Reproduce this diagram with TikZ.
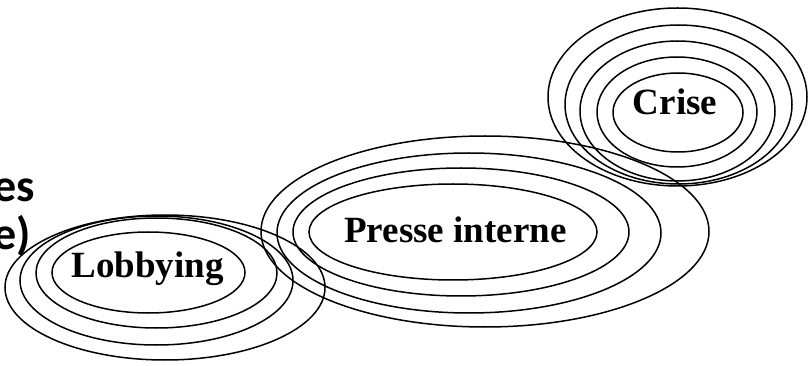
\documentclass[tikz,border=0pt]{standalone}
\usepackage{fontspec}
\setmainfont{Liberation Serif}
\newfontfamily\sidefont{Carlito}
\tikzset{
  ring/.style={draw=black, line width=1.5pt},
  lbl/.style={anchor=base, inner sep=0pt, font=\fontsize{37}{44}\selectfont\bfseries},
  side/.style={anchor=base east, inner sep=0pt, font=\sidefont\fontsize{46}{48}\selectfont\bfseries}
}
\begin{document}
\begin{tikzpicture}[x=1pt,y=-1pt]
\useasboundingbox (0,0) rectangle (809,366);
% cut-off side text
\node[side] (t1) at (35,202) {es};
\node[side] (t2) at (31,250) {e)};
% Lobbying group
\draw[ring] (148.5,272.5) ellipse [x radius=96.5pt, y radius=40.5pt];
\draw[ring] (156.5,273) ellipse [x radius=120.5pt, y radius=55pt];
\draw[ring] (156.5,280.5) ellipse [x radius=136.5pt, y radius=64.5pt];
\draw[ring] (165,287.5) ellipse [x radius=160pt, y radius=72.5pt];
% Presse interne group
\draw[ring] (453,232) ellipse [x radius=144pt, y radius=48pt];
\draw[ring] (461,232) ellipse [x radius=168pt, y radius=64pt];
\draw[ring] (469,233) ellipse [x radius=192pt, y radius=80pt];
\draw[ring] (485,231.5) ellipse [x radius=224pt, y radius=95.5pt];
% Crise group
\draw[ring] (678,112.5) ellipse [x radius=65pt, y radius=39.5pt];
\draw[ring] (677,112) ellipse [x radius=80pt, y radius=55pt];
\draw[ring] (677.5,111) ellipse [x radius=97.5pt, y radius=70pt];
\draw[ring] (678.5,104.5) ellipse [x radius=113.5pt, y radius=79.5pt];
\draw[ring] (677.5,97) ellipse [x radius=129.5pt, y radius=89pt];
% labels
\node[lbl] (lob) at (147.5,277) {Lobbying};
\node[lbl] (pre) at (455.5,243) {Presse interne};
\node[lbl] (cri) at (675,115) {Crise};
\end{tikzpicture}
\end{document}
